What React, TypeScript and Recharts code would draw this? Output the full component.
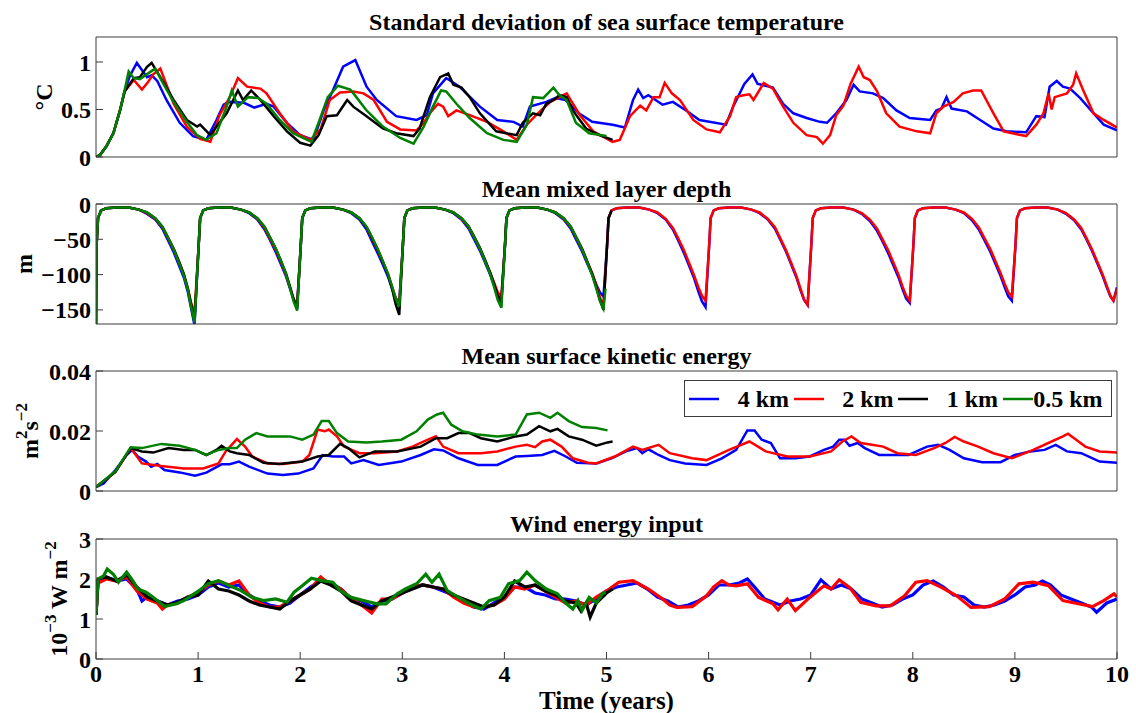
import { LineChart, Line, XAxis, YAxis, Legend } from 'recharts'

type Pt = [number, number]

const FONT = '"Liberation Serif", "Times New Roman", Times, serif'
const AXIS = '#3c3c3c'

// x ticks shared by all panels (years)
const years = [0, 1, 2, 3, 4, 5, 6, 7, 8, 9, 10]
const resolutions = ['4 km', '2 km', '1 km', '0.5 km']
const colours = ['#0000ff', '#ff0000', '#000000', '#008000']

// standard deviation of SST (°C)
const sstTicks = [0, 0.5, 1]
const sst4km: Pt[] = [
  [0, 0], [0.04, 0.02], [0.1, 0.11], [0.17, 0.25], [0.235, 0.49], [0.28, 0.69], [0.33, 0.85], [0.4, 0.99],
  [0.46, 0.9], [0.5, 0.84], [0.545, 0.86], [0.6, 0.8], [0.69, 0.6], [0.82, 0.36], [0.95, 0.22], [1.08, 0.18],
  [1.18, 0.39], [1.25, 0.55], [1.3, 0.58], [1.45, 0.57], [1.55, 0.52], [1.67, 0.56], [1.74, 0.53], [1.87, 0.36],
  [2.0, 0.23], [2.13, 0.18], [2.23, 0.49], [2.32, 0.7], [2.42, 0.95], [2.54, 1.02], [2.65, 0.74], [2.75, 0.6],
  [2.94, 0.43], [3.14, 0.39], [3.24, 0.44], [3.3, 0.67], [3.43, 0.83], [3.46, 0.81], [3.56, 0.74], [3.76, 0.53],
  [3.93, 0.39], [4.09, 0.37], [4.18, 0.32], [4.25, 0.53], [4.41, 0.58], [4.5, 0.62], [4.6, 0.6], [4.73, 0.46],
  [4.86, 0.37], [5.06, 0.34], [5.18, 0.31], [5.26, 0.6], [5.31, 0.71], [5.36, 0.62], [5.41, 0.65], [5.55, 0.55],
  [5.65, 0.58], [5.78, 0.49], [5.91, 0.39], [6.17, 0.34], [6.24, 0.53], [6.35, 0.77], [6.43, 0.87], [6.48, 0.77],
  [6.56, 0.75], [6.63, 0.73], [6.73, 0.56], [6.83, 0.46], [6.96, 0.41], [7.09, 0.37], [7.16, 0.36], [7.25, 0.46],
  [7.35, 0.6], [7.42, 0.76], [7.48, 0.69], [7.61, 0.67], [7.71, 0.62], [7.84, 0.49], [7.97, 0.41], [8.17, 0.39],
  [8.23, 0.49], [8.28, 0.51], [8.33, 0.63], [8.38, 0.51], [8.53, 0.48], [8.66, 0.39], [8.79, 0.3], [8.92, 0.27],
  [9.11, 0.26], [9.21, 0.43], [9.29, 0.42], [9.34, 0.74], [9.41, 0.8], [9.47, 0.74], [9.54, 0.72], [9.64, 0.62],
  [9.77, 0.46], [9.87, 0.34], [10, 0.28],
]
const sst2km: Pt[] = [
  [0, 0], [0.04, 0.02], [0.1, 0.11], [0.17, 0.25], [0.235, 0.49], [0.28, 0.69], [0.37, 0.81], [0.45, 0.71],
  [0.51, 0.79], [0.56, 0.87], [0.63, 0.93], [0.68, 0.79], [0.76, 0.56], [0.89, 0.32], [1.02, 0.19], [1.12, 0.16],
  [1.21, 0.44], [1.31, 0.63], [1.39, 0.83], [1.48, 0.74], [1.61, 0.72], [1.67, 0.67], [1.8, 0.46], [1.93, 0.27],
  [2.1, 0.18], [2.2, 0.29], [2.29, 0.6], [2.39, 0.68], [2.52, 0.69], [2.62, 0.67], [2.72, 0.6], [2.85, 0.37],
  [2.98, 0.29], [3.14, 0.28], [3.21, 0.36], [3.27, 0.46], [3.35, 0.56], [3.4, 0.53], [3.45, 0.43], [3.53, 0.49],
  [3.66, 0.44], [3.83, 0.37], [3.99, 0.27], [4.12, 0.18], [4.22, 0.34], [4.31, 0.44], [4.45, 0.58], [4.61, 0.67],
  [4.74, 0.44], [4.87, 0.27], [5.06, 0.16], [5.13, 0.18], [5.23, 0.43], [5.33, 0.54], [5.39, 0.49], [5.46, 0.63],
  [5.52, 0.63], [5.57, 0.78], [5.64, 0.67], [5.72, 0.6], [5.85, 0.39], [5.98, 0.29], [6.11, 0.26], [6.21, 0.43],
  [6.27, 0.63], [6.34, 0.65], [6.4, 0.66], [6.44, 0.6], [6.54, 0.78], [6.63, 0.72], [6.73, 0.53], [6.83, 0.36],
  [6.96, 0.23], [7.06, 0.21], [7.12, 0.14], [7.19, 0.23], [7.25, 0.44], [7.32, 0.54], [7.39, 0.77], [7.47, 0.95],
  [7.52, 0.84], [7.58, 0.81], [7.65, 0.69], [7.74, 0.46], [7.87, 0.32], [8.04, 0.27], [8.17, 0.25], [8.23, 0.46],
  [8.3, 0.53], [8.4, 0.58], [8.49, 0.67], [8.59, 0.7], [8.67, 0.7], [8.79, 0.46], [8.89, 0.27], [9.02, 0.24],
  [9.11, 0.22], [9.21, 0.34], [9.28, 0.46], [9.33, 0.67], [9.36, 0.5], [9.39, 0.63], [9.51, 0.67], [9.57, 0.76],
  [9.6, 0.88], [9.67, 0.7], [9.77, 0.46], [9.87, 0.39], [10, 0.31],
]
const sst1km: Pt[] = [
  [0, 0], [0.04, 0.02], [0.1, 0.11], [0.17, 0.25], [0.235, 0.49], [0.28, 0.69], [0.37, 0.83], [0.43, 0.84],
  [0.5, 0.95], [0.545, 0.99], [0.63, 0.84], [0.76, 0.6], [0.89, 0.39], [0.99, 0.32], [1.02, 0.34], [1.12, 0.23],
  [1.18, 0.32], [1.28, 0.46], [1.39, 0.7], [1.44, 0.6], [1.52, 0.7], [1.61, 0.6], [1.74, 0.43], [1.87, 0.27],
  [2.0, 0.15], [2.1, 0.12], [2.18, 0.23], [2.26, 0.43], [2.36, 0.44], [2.46, 0.6], [2.52, 0.53], [2.65, 0.43],
  [2.81, 0.3], [2.94, 0.25], [3.11, 0.22], [3.17, 0.3], [3.27, 0.63], [3.37, 0.84], [3.45, 0.88], [3.5, 0.76],
  [3.58, 0.73], [3.66, 0.63], [3.76, 0.46], [3.92, 0.27], [4.12, 0.23], [4.18, 0.36], [4.28, 0.46], [4.35, 0.44],
  [4.41, 0.56], [4.48, 0.6], [4.54, 0.65], [4.61, 0.63], [4.67, 0.49], [4.8, 0.3], [4.93, 0.23], [5.06, 0.18],
]
const sst05km: Pt[] = [
  [0, 0], [0.04, 0.02], [0.1, 0.11], [0.17, 0.25], [0.235, 0.49], [0.28, 0.7], [0.32, 0.9], [0.37, 0.83],
  [0.43, 0.82], [0.51, 0.88], [0.58, 0.93], [0.66, 0.77], [0.76, 0.58], [0.89, 0.37], [0.99, 0.23], [1.08, 0.18],
  [1.18, 0.25], [1.28, 0.53], [1.33, 0.7], [1.39, 0.53], [1.49, 0.63], [1.59, 0.62], [1.67, 0.56], [1.8, 0.39],
  [1.93, 0.25], [2.11, 0.16], [2.19, 0.39], [2.27, 0.63], [2.37, 0.75], [2.49, 0.71], [2.55, 0.63], [2.65, 0.49],
  [2.81, 0.32], [2.98, 0.2], [3.11, 0.14], [3.21, 0.32], [3.3, 0.53], [3.38, 0.7], [3.43, 0.69], [3.53, 0.56],
  [3.66, 0.41], [3.83, 0.25], [3.99, 0.18], [4.12, 0.16], [4.22, 0.34], [4.28, 0.63], [4.38, 0.62], [4.48, 0.73],
  [4.54, 0.65], [4.61, 0.6], [4.7, 0.36], [4.83, 0.25], [5.0, 0.22],
]

// mean mixed layer depth (m)
const mldTicks = [-150, -100, -50, 0]
const mld4km: Pt[] = [
  [0, -175], [0.005, -60], [0.02, -20], [0.05, -9], [0.1, -6], [0.2, -5], [0.32, -5], [0.42, -8], [0.5, -14], [0.58, -22], [0.65, -35], [0.7, -50], [0.76, -68], [0.81, -86], [0.86, -104], [0.9, -125], [0.935, -150], [0.965, -172],
  [1.005, -60], [1.02, -20], [1.05, -9], [1.1, -6], [1.2, -5], [1.32, -5], [1.42, -8], [1.5, -13], [1.58, -22], [1.65, -36], [1.7, -50], [1.76, -68], [1.81, -85], [1.86, -102], [1.9, -120], [1.935, -135], [1.97, -143],
  [2.005, -60], [2.02, -20], [2.05, -9], [2.1, -6], [2.2, -5], [2.32, -5], [2.42, -8], [2.5, -13], [2.58, -22], [2.65, -36], [2.7, -52], [2.76, -70], [2.81, -86], [2.86, -103], [2.9, -120], [2.935, -133], [2.97, -140],
  [3.005, -60], [3.02, -20], [3.05, -9], [3.1, -6], [3.2, -5], [3.32, -5], [3.42, -8], [3.5, -13], [3.58, -22], [3.65, -35], [3.7, -49], [3.76, -66], [3.81, -83], [3.86, -100], [3.9, -116], [3.935, -128], [3.97, -135],
  [4.005, -60], [4.02, -20], [4.05, -9], [4.1, -6], [4.2, -5], [4.32, -5], [4.42, -8], [4.5, -13], [4.58, -22], [4.65, -35], [4.7, -50], [4.76, -67], [4.81, -84], [4.86, -100], [4.9, -114], [4.935, -125], [4.97, -131],
  [5.005, -60], [5.02, -20], [5.05, -9], [5.1, -6], [5.2, -5], [5.32, -5], [5.42, -8], [5.5, -13], [5.58, -22], [5.65, -36], [5.7, -51], [5.76, -70], [5.81, -88], [5.86, -106], [5.9, -124], [5.935, -138], [5.97, -146],
  [6.005, -60], [6.02, -20], [6.05, -9], [6.1, -6], [6.2, -5], [6.32, -5], [6.42, -8], [6.5, -13], [6.58, -22], [6.65, -35], [6.7, -50], [6.76, -68], [6.81, -86], [6.86, -104], [6.9, -122], [6.935, -136], [6.97, -143],
  [7.005, -60], [7.02, -20], [7.05, -9], [7.1, -6], [7.2, -5], [7.32, -5], [7.42, -8], [7.5, -14], [7.58, -24], [7.65, -38], [7.7, -52], [7.76, -70], [7.81, -87], [7.86, -104], [7.9, -121], [7.935, -134], [7.97, -140],
  [8.005, -60], [8.02, -20], [8.05, -9], [8.1, -6], [8.2, -5], [8.32, -5], [8.42, -8], [8.5, -13], [8.58, -23], [8.65, -37], [8.7, -51], [8.76, -68], [8.81, -85], [8.86, -102], [8.9, -118], [8.935, -131], [8.97, -137],
  [9.005, -60], [9.02, -20], [9.05, -9], [9.1, -6], [9.2, -5], [9.32, -5], [9.42, -8], [9.5, -14], [9.58, -23], [9.65, -36], [9.7, -50], [9.76, -68], [9.81, -85], [9.86, -102], [9.9, -118], [9.935, -131], [9.965, -137], [10, -118],
]
const mld2km: Pt[] = [
  [0, -175], [0.005, -60], [0.02, -20], [0.05, -9], [0.1, -6], [0.2, -5], [0.32, -5], [0.42, -8], [0.5, -13], [0.58, -21], [0.65, -33], [0.7, -47], [0.76, -64], [0.81, -82], [0.86, -100], [0.9, -120], [0.935, -142], [0.965, -155],
  [1.005, -60], [1.02, -20], [1.05, -9], [1.1, -6], [1.2, -5], [1.32, -5], [1.42, -8], [1.5, -12], [1.58, -21], [1.65, -34], [1.7, -48], [1.76, -65], [1.81, -82], [1.86, -100], [1.9, -118], [1.935, -134], [1.97, -145],
  [2.005, -60], [2.02, -20], [2.05, -9], [2.1, -6], [2.2, -5], [2.32, -5], [2.42, -8], [2.5, -12], [2.58, -20], [2.65, -33], [2.7, -48], [2.76, -66], [2.81, -82], [2.86, -99], [2.9, -117], [2.935, -133], [2.97, -143],
  [3.005, -60], [3.02, -20], [3.05, -9], [3.1, -6], [3.2, -5], [3.32, -5], [3.42, -8], [3.5, -12], [3.58, -21], [3.65, -33], [3.7, -46], [3.76, -63], [3.81, -80], [3.86, -97], [3.9, -112], [3.935, -125], [3.97, -132],
  [4.005, -60], [4.02, -20], [4.05, -9], [4.1, -6], [4.2, -5], [4.32, -5], [4.42, -8], [4.5, -12], [4.58, -21], [4.65, -33], [4.7, -47], [4.76, -64], [4.81, -81], [4.86, -98], [4.9, -115], [4.935, -132], [4.97, -145],
  [5.005, -60], [5.02, -20], [5.05, -9], [5.1, -6], [5.2, -5], [5.32, -5], [5.42, -8], [5.5, -12], [5.58, -21], [5.65, -34], [5.7, -48], [5.76, -66], [5.81, -84], [5.86, -102], [5.9, -118], [5.935, -130], [5.97, -137],
  [6.005, -60], [6.02, -20], [6.05, -9], [6.1, -6], [6.2, -5], [6.32, -5], [6.42, -8], [6.5, -12], [6.58, -21], [6.65, -33], [6.7, -48], [6.76, -66], [6.81, -84], [6.86, -102], [6.9, -120], [6.935, -135], [6.97, -143],
  [7.005, -60], [7.02, -20], [7.05, -9], [7.1, -6], [7.2, -5], [7.32, -5], [7.42, -8], [7.5, -13], [7.58, -22], [7.65, -35], [7.7, -49], [7.76, -66], [7.81, -83], [7.86, -100], [7.9, -117], [7.935, -130], [7.97, -137],
  [8.005, -60], [8.02, -20], [8.05, -9], [8.1, -6], [8.2, -5], [8.32, -5], [8.42, -8], [8.5, -12], [8.58, -21], [8.65, -34], [8.7, -48], [8.76, -64], [8.81, -81], [8.86, -98], [8.9, -113], [8.935, -125], [8.97, -131],
  [9.005, -60], [9.02, -20], [9.05, -9], [9.1, -6], [9.2, -5], [9.32, -5], [9.42, -8], [9.5, -13], [9.58, -22], [9.65, -34], [9.7, -48], [9.76, -66], [9.81, -83], [9.86, -100], [9.9, -116], [9.935, -130], [9.965, -137], [10, -120],
]
const mld1km: Pt[] = [
  [0, -175], [0.005, -60], [0.02, -20], [0.05, -9], [0.1, -6], [0.2, -5], [0.32, -5], [0.42, -8], [0.5, -12], [0.58, -20], [0.65, -32], [0.7, -46], [0.76, -63], [0.81, -80], [0.86, -99], [0.9, -120], [0.935, -145], [0.965, -165],
  [1.005, -60], [1.02, -20], [1.05, -9], [1.1, -6], [1.2, -5], [1.32, -5], [1.42, -8], [1.5, -12], [1.58, -20], [1.65, -32], [1.7, -46], [1.76, -63], [1.81, -80], [1.86, -98], [1.9, -117], [1.935, -135], [1.97, -148],
  [2.005, -60], [2.02, -20], [2.05, -9], [2.1, -6], [2.2, -5], [2.32, -5], [2.42, -8], [2.5, -12], [2.58, -20], [2.65, -33], [2.7, -47], [2.76, -65], [2.81, -82], [2.86, -100], [2.9, -120], [2.935, -142], [2.97, -157],
  [3.005, -60], [3.02, -20], [3.05, -9], [3.1, -6], [3.2, -5], [3.32, -5], [3.42, -8], [3.5, -12], [3.58, -20], [3.65, -32], [3.7, -45], [3.76, -62], [3.81, -79], [3.86, -97], [3.9, -114], [3.935, -130], [3.97, -140],
  [4.005, -60], [4.02, -20], [4.05, -9], [4.1, -6], [4.2, -5], [4.32, -5], [4.42, -8], [4.5, -12], [4.58, -20], [4.65, -32], [4.7, -46], [4.76, -63], [4.81, -81], [4.86, -99], [4.9, -117], [4.935, -136], [4.97, -150],
  [5.005, -60], [5.02, -20], [5.05, -9],
]
const mld05km: Pt[] = [
  [0, -175], [0.005, -60], [0.02, -20], [0.05, -9], [0.1, -6], [0.2, -5], [0.32, -5], [0.42, -8], [0.5, -12], [0.58, -20], [0.65, -32], [0.7, -46], [0.76, -64], [0.81, -82], [0.86, -101], [0.9, -122], [0.935, -148], [0.965, -168],
  [1.005, -60], [1.02, -20], [1.05, -9], [1.1, -6], [1.2, -5], [1.32, -5], [1.42, -8], [1.5, -12], [1.58, -20], [1.65, -32], [1.7, -46], [1.76, -63], [1.81, -80], [1.86, -99], [1.9, -119], [1.935, -138], [1.97, -151],
  [2.005, -60], [2.02, -20], [2.05, -9], [2.1, -6], [2.2, -5], [2.32, -5], [2.42, -8], [2.5, -12], [2.58, -20], [2.65, -32], [2.7, -46], [2.76, -64], [2.81, -81], [2.86, -99], [2.9, -117], [2.935, -134], [2.97, -145],
  [3.005, -60], [3.02, -20], [3.05, -9], [3.1, -6], [3.2, -5], [3.32, -5], [3.42, -8], [3.5, -12], [3.58, -20], [3.65, -32], [3.7, -46], [3.76, -63], [3.81, -81], [3.86, -99], [3.9, -118], [3.935, -136], [3.97, -147],
  [4.005, -60], [4.02, -20], [4.05, -9], [4.1, -6], [4.2, -5], [4.32, -5], [4.42, -8], [4.5, -12], [4.58, -20], [4.65, -32], [4.7, -46], [4.76, -64], [4.81, -82], [4.86, -101], [4.9, -120], [4.935, -137], [4.97, -148],
  [4.99, -120],
]

// mean surface kinetic energy (m^2 s^-2)
const keTicks = [0, 0.02, 0.04]
const ke4km: Pt[] = [
  [0, 0.0013], [0.075, 0.0025], [0.19, 0.007], [0.3, 0.012], [0.355, 0.0137], [0.41, 0.0115], [0.49, 0.0098], [0.54, 0.0081],
  [0.6, 0.009], [0.67, 0.007], [0.82, 0.0062], [0.97, 0.0051], [1.08, 0.0061], [1.23, 0.0089], [1.31, 0.0089], [1.4, 0.0098],
  [1.5, 0.0081], [1.68, 0.0058], [1.83, 0.0053], [1.98, 0.0058], [2.13, 0.0075], [2.22, 0.012], [2.32, 0.0115], [2.43, 0.0115],
  [2.5, 0.0092], [2.62, 0.0103], [2.77, 0.0087], [2.99, 0.0098], [3.18, 0.012], [3.31, 0.0139], [3.4, 0.0135], [3.55, 0.0109],
  [3.74, 0.0087], [3.93, 0.0087], [4.11, 0.0115], [4.22, 0.0117], [4.37, 0.012], [4.49, 0.0134], [4.6, 0.0115], [4.71, 0.0094],
  [4.9, 0.0092], [5.05, 0.0109], [5.19, 0.0132], [5.3, 0.0143], [5.35, 0.0126], [5.41, 0.0139], [5.51, 0.012], [5.62, 0.0103],
  [5.77, 0.0092], [5.98, 0.0087], [6.13, 0.0109], [6.27, 0.0137], [6.38, 0.0202], [6.45, 0.0202], [6.52, 0.0171], [6.61, 0.016],
  [6.7, 0.0109], [6.85, 0.0109], [6.99, 0.0115], [7.13, 0.0137], [7.22, 0.0148], [7.28, 0.0171], [7.33, 0.0171], [7.38, 0.0151],
  [7.46, 0.016], [7.53, 0.0143], [7.67, 0.012], [7.78, 0.012], [7.96, 0.012], [8.14, 0.0148], [8.25, 0.0154], [8.36, 0.0137],
  [8.5, 0.0109], [8.68, 0.0096], [8.86, 0.0096], [9.0, 0.012], [9.15, 0.0132], [9.29, 0.0137], [9.4, 0.0154], [9.51, 0.0132],
  [9.65, 0.0126], [9.83, 0.0098], [10, 0.0094],
]
const ke2km: Pt[] = [
  [0, 0.0013], [0.19, 0.0064], [0.34, 0.0143], [0.45, 0.0092], [0.64, 0.0083], [0.86, 0.0075], [1.05, 0.0075], [1.2, 0.0092],
  [1.27, 0.0132], [1.38, 0.0173], [1.46, 0.0148], [1.53, 0.0115], [1.68, 0.0092], [1.83, 0.009], [2.02, 0.0098], [2.09, 0.012],
  [2.17, 0.0205], [2.24, 0.0199], [2.28, 0.0205], [2.36, 0.0182], [2.43, 0.0148], [2.58, 0.0126], [2.73, 0.0126], [2.95, 0.0132],
  [3.1, 0.0148], [3.25, 0.0171], [3.33, 0.0182], [3.4, 0.0148], [3.55, 0.0126], [3.77, 0.0126], [3.93, 0.0132], [4.11, 0.0148],
  [4.22, 0.0154], [4.3, 0.0146], [4.37, 0.0165], [4.45, 0.0171], [4.56, 0.0148], [4.67, 0.0109], [4.82, 0.0094], [4.9, 0.0092],
  [5.08, 0.0115], [5.26, 0.0148], [5.35, 0.0137], [5.51, 0.0154], [5.62, 0.0126], [5.84, 0.0109], [5.98, 0.0103], [6.2, 0.0137],
  [6.4, 0.0165], [6.56, 0.0132], [6.77, 0.0115], [6.99, 0.0115], [7.2, 0.0132], [7.31, 0.0165], [7.4, 0.0182], [7.49, 0.016],
  [7.6, 0.0154], [7.71, 0.0148], [7.85, 0.0126], [8.03, 0.012], [8.21, 0.0143], [8.32, 0.016], [8.41, 0.018], [8.5, 0.0165],
  [8.64, 0.0148], [8.79, 0.0126], [8.97, 0.0109], [9.18, 0.0137], [9.36, 0.0165], [9.47, 0.0182], [9.52, 0.0191], [9.58, 0.0176],
  [9.69, 0.0148], [9.83, 0.0132], [10, 0.0128],
]
const ke1km: Pt[] = [
  [0, 0.0013], [0.19, 0.0064], [0.34, 0.0143], [0.45, 0.0132], [0.56, 0.0128], [0.71, 0.0143], [0.86, 0.0137], [0.97, 0.0137],
  [1.08, 0.012], [1.18, 0.0137], [1.23, 0.0151], [1.31, 0.0132], [1.38, 0.0126], [1.5, 0.012], [1.64, 0.0094], [1.79, 0.009],
  [2.02, 0.0098], [2.17, 0.0115], [2.28, 0.012], [2.39, 0.0157], [2.47, 0.0143], [2.58, 0.0112], [2.73, 0.0132], [2.95, 0.0132],
  [3.18, 0.0148], [3.33, 0.0176], [3.44, 0.0176], [3.55, 0.0193], [3.66, 0.0193], [3.77, 0.0176], [3.93, 0.0165], [4.11, 0.0182],
  [4.22, 0.0188], [4.34, 0.0216], [4.45, 0.0199], [4.52, 0.0207], [4.63, 0.0182], [4.76, 0.0171], [4.9, 0.0151], [5.01, 0.0162],
  [5.06, 0.0165],
]
const ke05km: Pt[] = [
  [0, 0.0013], [0.19, 0.0066], [0.34, 0.0146], [0.45, 0.0143], [0.64, 0.0157], [0.82, 0.0151], [0.97, 0.0137], [1.08, 0.012],
  [1.2, 0.0137], [1.31, 0.0143], [1.38, 0.0143], [1.46, 0.0171], [1.57, 0.0193], [1.68, 0.0182], [1.9, 0.0182], [2.02, 0.0171],
  [2.13, 0.0188], [2.21, 0.0233], [2.28, 0.0233], [2.36, 0.0193], [2.47, 0.0165], [2.65, 0.0162], [2.8, 0.0165], [2.99, 0.0171],
  [3.14, 0.0199], [3.25, 0.0238], [3.34, 0.0255], [3.4, 0.0261], [3.48, 0.0221], [3.59, 0.0199], [3.74, 0.0188], [3.93, 0.0182],
  [4.11, 0.0188], [4.22, 0.0255], [4.34, 0.0261], [4.45, 0.0244], [4.52, 0.0261], [4.63, 0.0233], [4.76, 0.0213], [4.9, 0.021],
  [5.01, 0.0202],
]

// wind energy input (10^-3 W m^-2)
const windTicks = [0, 1, 2, 3]
const wind4km: Pt[] = [
  [0, 1.1], [0.02, 1.95], [0.1, 2.05], [0.2, 1.95], [0.3, 2.0], [0.4, 1.75], [0.45, 1.45], [0.5, 1.55], [0.6, 1.45], [0.7, 1.35],
  [0.8, 1.45], [0.9, 1.5], [1.0, 1.6], [1.1, 1.8], [1.2, 1.9], [1.3, 1.8], [1.4, 1.85], [1.5, 1.6], [1.6, 1.45], [1.7, 1.35],
  [1.8, 1.3], [1.9, 1.4], [2.0, 1.6], [2.1, 1.8], [2.2, 1.95], [2.3, 1.9], [2.4, 1.75], [2.5, 1.5], [2.6, 1.45], [2.7, 1.3],
  [2.8, 1.45], [2.9, 1.5], [3.0, 1.65], [3.1, 1.8], [3.2, 1.85], [3.3, 1.8], [3.4, 1.7], [3.5, 1.6], [3.6, 1.45], [3.7, 1.3],
  [3.8, 1.25], [3.9, 1.4], [4.0, 1.55], [4.1, 1.8], [4.2, 1.8], [4.3, 1.65], [4.4, 1.6], [4.5, 1.5], [4.6, 1.5], [4.7, 1.45],
  [4.8, 1.35], [4.9, 1.5], [5.0, 1.7], [5.1, 1.8], [5.2, 1.85], [5.3, 1.9], [5.4, 1.75], [5.5, 1.55], [5.6, 1.45], [5.7, 1.3],
  [5.8, 1.35], [5.9, 1.45], [6.0, 1.6], [6.1, 1.85], [6.2, 1.85], [6.3, 1.9], [6.38, 2.0], [6.45, 1.8], [6.55, 1.5], [6.6, 1.45],
  [6.7, 1.35], [6.8, 1.45], [6.9, 1.5], [7.0, 1.6], [7.1, 1.98], [7.2, 1.75], [7.3, 1.85], [7.4, 1.75], [7.5, 1.5], [7.6, 1.4],
  [7.7, 1.3], [7.8, 1.35], [7.9, 1.5], [8.0, 1.6], [8.1, 1.85], [8.2, 1.95], [8.3, 1.8], [8.4, 1.6], [8.5, 1.55], [8.6, 1.35],
  [8.7, 1.3], [8.8, 1.35], [8.9, 1.45], [9.0, 1.6], [9.1, 1.8], [9.2, 1.85], [9.27, 1.95], [9.35, 1.85], [9.45, 1.6], [9.55, 1.5],
  [9.65, 1.4], [9.75, 1.3], [9.8, 1.17], [9.9, 1.4], [10, 1.5],
]
const wind2km: Pt[] = [
  [0, 1.1], [0.02, 1.9], [0.1, 2.0], [0.2, 1.95], [0.3, 2.05], [0.4, 1.7], [0.5, 1.5], [0.6, 1.4], [0.65, 1.25], [0.7, 1.35],
  [0.8, 1.4], [0.9, 1.55], [1.0, 1.65], [1.1, 1.85], [1.2, 1.95], [1.3, 1.85], [1.4, 1.95], [1.5, 1.6], [1.6, 1.4], [1.7, 1.3],
  [1.8, 1.3], [1.9, 1.45], [2.0, 1.6], [2.1, 1.75], [2.2, 2.05], [2.3, 1.85], [2.4, 1.75], [2.5, 1.5], [2.6, 1.35], [2.7, 1.15],
  [2.8, 1.5], [2.9, 1.5], [3.0, 1.65], [3.1, 1.8], [3.2, 1.85], [3.3, 1.8], [3.4, 1.75], [3.5, 1.55], [3.6, 1.4], [3.7, 1.3],
  [3.8, 1.3], [3.9, 1.35], [4.0, 1.5], [4.1, 1.8], [4.2, 1.75], [4.3, 1.85], [4.4, 1.7], [4.5, 1.55], [4.6, 1.4], [4.7, 1.45],
  [4.8, 1.35], [4.9, 1.55], [5.0, 1.7], [5.12, 1.92], [5.26, 1.96], [5.41, 1.75], [5.55, 1.5], [5.62, 1.35], [5.69, 1.29], [5.84, 1.31],
  [5.98, 1.58], [6.05, 1.8], [6.13, 1.96], [6.2, 1.85], [6.27, 1.83], [6.38, 1.88], [6.49, 1.54], [6.63, 1.38], [6.68, 1.23], [6.77, 1.5],
  [6.85, 1.21], [6.99, 1.54], [7.13, 1.83], [7.2, 1.75], [7.28, 1.98], [7.38, 1.79], [7.49, 1.42], [7.64, 1.33], [7.78, 1.33], [7.92, 1.58],
  [8.03, 1.92], [8.14, 1.96], [8.28, 1.79], [8.43, 1.58], [8.57, 1.29], [8.75, 1.31], [8.9, 1.5], [9.04, 1.88], [9.18, 1.92], [9.33, 1.83],
  [9.47, 1.46], [9.62, 1.38], [9.76, 1.31], [9.87, 1.46], [9.97, 1.63], [10, 1.55],
]
const wind1km: Pt[] = [
  [0, 1.1], [0.02, 2.0], [0.1, 2.05], [0.2, 1.95], [0.3, 2.1], [0.4, 1.8], [0.5, 1.55], [0.6, 1.45], [0.7, 1.35], [0.8, 1.42],
  [0.9, 1.55], [1.0, 1.6], [1.1, 1.95], [1.2, 1.75], [1.3, 1.7], [1.4, 1.6], [1.5, 1.45], [1.6, 1.35], [1.7, 1.3], [1.8, 1.25],
  [1.9, 1.45], [2.0, 1.6], [2.1, 1.75], [2.2, 1.95], [2.3, 1.85], [2.4, 1.7], [2.5, 1.45], [2.6, 1.35], [2.7, 1.25], [2.8, 1.45],
  [2.9, 1.55], [3.0, 1.65], [3.1, 1.75], [3.2, 1.85], [3.3, 1.8], [3.4, 1.75], [3.5, 1.6], [3.6, 1.5], [3.7, 1.4], [3.8, 1.3],
  [3.9, 1.35], [4.0, 1.55], [4.1, 1.95], [4.2, 1.8], [4.3, 1.85], [4.4, 1.7], [4.5, 1.6], [4.6, 1.45], [4.7, 1.4], [4.75, 1.2],
  [4.8, 1.4], [4.84, 1.05], [4.9, 1.4], [5.0, 1.65], [5.06, 1.75],
]
const wind05km: Pt[] = [
  [0, 1.1], [0.02, 2.0], [0.075, 2.08], [0.11, 2.25], [0.17, 2.12], [0.22, 1.92], [0.3, 2.17], [0.36, 1.96], [0.41, 1.75], [0.49, 1.67],
  [0.54, 1.58], [0.6, 1.46], [0.67, 1.31], [0.79, 1.38], [0.86, 1.46], [0.93, 1.58], [1.01, 1.71], [1.1, 1.88], [1.2, 1.96], [1.31, 1.83],
  [1.42, 1.71], [1.53, 1.54], [1.64, 1.46], [1.76, 1.5], [1.87, 1.42], [1.94, 1.67], [2.02, 1.83], [2.11, 2.02], [2.21, 1.96], [2.32, 1.92],
  [2.39, 1.71], [2.5, 1.54], [2.62, 1.46], [2.75, 1.38], [2.84, 1.38], [2.95, 1.63], [3.03, 1.75], [3.14, 1.88], [3.23, 2.12], [3.29, 1.92],
  [3.36, 2.12], [3.44, 1.71], [3.55, 1.54], [3.66, 1.38], [3.77, 1.25], [3.85, 1.46], [3.96, 1.54], [4.04, 1.88], [4.15, 1.96], [4.22, 2.17],
  [4.3, 1.96], [4.41, 1.75], [4.52, 1.63], [4.6, 1.4], [4.67, 1.25], [4.72, 1.46], [4.76, 1.21], [4.83, 1.54], [4.9, 1.4], [4.96, 1.63],
  [4.99, 1.67],
]

const toRows = (pts: Pt[]) => pts.map(([t, v]) => ({ t, v }))

const tickStyle = { fontFamily: FONT, fontSize: 24, fontWeight: 'bold', fill: '#000' }

function YTitle(props: any) {
  const { viewBox, bx, parts } = props
  const cy = viewBox.y + viewBox.height / 2
  return (
    <text
      x={bx}
      y={cy}
      transform={`rotate(-90 ${bx} ${cy})`}
      textAnchor="middle"
      fontFamily={FONT}
      fontWeight="bold"
      fontSize={24}
      fill="#000"
    >
      {parts}
    </text>
  )
}

function KeyBox({ payload }: any) {
  const items = [...(payload || [])].sort(
    (a: any, b: any) => resolutions.indexOf(a.value) - resolutions.indexOf(b.value),
  )
  return (
    <div
      style={{
        display: 'flex',
        alignItems: 'center',
        height: 37,
        padding: '0 4px',
        border: `1px solid ${AXIS}`,
        background: '#fff',
        fontFamily: FONT,
        fontWeight: 'bold',
        fontSize: 24,
        boxSizing: 'border-box',
      }}
    >
      {items.map((p: any) => (
        <div key={p.value} style={{ display: 'flex', alignItems: 'center', width: 105 }}>
          <svg width={30} height={6}>
            <line x1={0} y1={3} x2={30} y2={3} stroke={p.color} strokeWidth={2.5} />
          </svg>
          <span style={{ width: 70, textAlign: 'right', lineHeight: '24px' }}>{p.value}</span>
        </div>
      ))}
    </div>
  )
}

interface PanelProps {
  plotTop: number
  title: string
  domain: [number, number]
  ticks: number[]
  fmt: (v: number) => string
  ylabel: any
  series: Pt[][]
  showX?: boolean
  lineWidth: number
  legend?: boolean
}

function Panel({ plotTop, title, domain, ticks, fmt, ylabel, series, showX, lineWidth, legend }: PanelProps) {
  const xh = showX ? 48 : 1
  const bottom = showX ? 2 : 14
  const h = 30 + 120 + xh + bottom
  return (
    <div style={{ position: 'absolute', left: 0, top: plotTop - 30 }}>
      <div
        style={{
          position: 'absolute',
          left: 96,
          width: 1021,
          top: 3,
          textAlign: 'center',
          fontFamily: FONT,
          fontWeight: 'bold',
          fontSize: 24,
          lineHeight: '24px',
          whiteSpace: 'nowrap',
        }}
      >
        {title}
      </div>
      <LineChart width={1136} height={h} margin={{ top: 29, right: 0, bottom, left: 0 }}>
        <XAxis
          xAxisId="b"
          dataKey="t"
          type="number"
          domain={[0, 10]}
          ticks={years}
          interval={0}
          allowDataOverflow
          height={xh}
          tickSize={-7}
          tickMargin={13}
          tick={showX ? tickStyle : false}
          stroke={AXIS}
        />
        <XAxis
          xAxisId="t"
          orientation="top"
          type="number"
          domain={[0, 10]}
          ticks={years}
          interval={0}
          allowDataOverflow
          height={1}
          tickSize={-7}
          tick={false}
          stroke={AXIS}
        />
        <YAxis
          yAxisId="l"
          type="number"
          domain={domain}
          ticks={ticks}
          interval={0}
          allowDataOverflow
          width={96}
          tickSize={-7}
          tickMargin={12}
          tick={tickStyle}
          tickFormatter={fmt}
          stroke={AXIS}
          label={ylabel}
        />
        <YAxis
          yAxisId="r"
          orientation="right"
          type="number"
          domain={domain}
          ticks={ticks}
          interval={0}
          allowDataOverflow
          width={19}
          tickSize={-7}
          tick={false}
          stroke={AXIS}
        />
        {series.map((s, i) => (
          <Line
            key={resolutions[i]}
            xAxisId="b"
            yAxisId="l"
            data={toRows(s)}
            dataKey="v"
            name={resolutions[i]}
            type="linear"
            stroke={colours[i]}
            strokeWidth={lineWidth}
            dot={false}
            activeDot={false}
            isAnimationActive={false}
          />
        ))}
        {legend && (
          <Legend
            layout="horizontal"
            verticalAlign="middle"
            align="center"
            content={<KeyBox />}
            wrapperStyle={{ left: 684, top: 39, width: 428, height: 37 }}
          />
        )}
      </LineChart>
    </div>
  )
}

export default function App() {
  return (
    <div style={{ position: 'absolute', left: 0, top: 0, width: 1136, height: 713, background: '#fff' }}>
      <Panel
        plotTop={37}
        title="Standard deviation of sea surface temperature"
        domain={[0, 1.263]}
        ticks={sstTicks}
        fmt={(v) => String(v)}
        ylabel={<YTitle bx={52} parts="°C" />}
        series={[sst4km, sst2km, sst1km, sst05km]}
        lineWidth={2.5}
      />
      <Panel
        plotTop={204}
        title="Mean mixed layer depth"
        domain={[-170, 0]}
        ticks={mldTicks}
        fmt={(v) => (v < 0 ? `\u2212${-v}` : '0')}
        ylabel={<YTitle bx={32} parts="m" />}
        series={[mld4km, mld2km, mld1km, mld05km]}
        lineWidth={2.5}
      />
      <Panel
        plotTop={371}
        title="Mean surface kinetic energy"
        domain={[0, 0.04]}
        ticks={keTicks}
        fmt={(v) => String(v)}
        ylabel={
          <YTitle
            bx={38}
            parts={[
              'm',
              <tspan key="a" dy={-11} fontSize={17}>2</tspan>,
              <tspan key="s" dy={11}>s</tspan>,
              <tspan key="e" dy={-11} fontSize={17}>{'\u22122'}</tspan>,
            ]}
          />
        }
        series={[ke4km, ke2km, ke1km, ke05km]}
        lineWidth={2.5}
        legend
      />
      <Panel
        plotTop={539}
        title="Wind energy input"
        domain={[0, 3]}
        ticks={windTicks}
        fmt={(v) => String(v)}
        ylabel={
          <YTitle
            bx={67}
            parts={[
              '10',
              <tspan key="a" dy={-11} fontSize={17}>{'\u22123'}</tspan>,
              <tspan key="b" dy={11}>{' W m'}</tspan>,
              <tspan key="c" dy={-11} fontSize={17}>{'\u22122'}</tspan>,
            ]}
          />
        }
        series={[wind4km, wind2km, wind1km, wind05km]}
        showX
        lineWidth={3.2}
      />
      <div
        style={{
          position: 'absolute',
          left: 96,
          width: 1021,
          top: 688,
          textAlign: 'center',
          fontFamily: FONT,
          fontWeight: 'bold',
          fontSize: 25,
          lineHeight: '25px',
        }}
      >
        Time (years)
      </div>
    </div>
  )
}
